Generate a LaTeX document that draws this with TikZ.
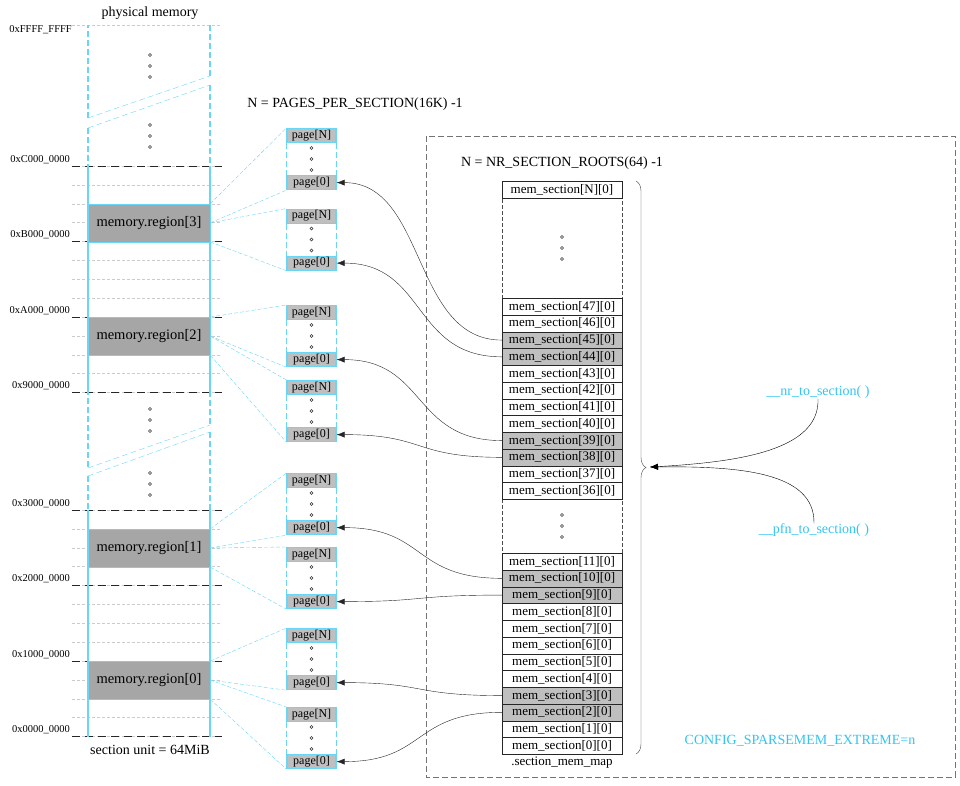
\documentclass[tikz,border=0pt]{standalone}
\usepackage{fontspec}
\setmainfont{Liberation Serif}
\usetikzlibrary{arrows.meta,positioning,calc,decorations.pathreplacing}
\definecolor{cyanA}{HTML}{6AD6F6}
\definecolor{cyanT}{HTML}{33C4F0}
\definecolor{grayA}{HTML}{A6A6A6}
\definecolor{grayB}{HTML}{BFBFBF}
\newcommand{\ringdots}[2]{\foreach \k in {0,1,2} \draw[black!80, thin] (#1,#2+11*\k) circle[radius=1.5pt];}

\begin{document}
\begin{tikzpicture}[x=1pt, y=-1pt, font=\fontsize{13}{15}\selectfont,
  lbl/.style={inner sep=0pt, font=\fontsize{14}{16}\selectfont},
  addr/.style={inner sep=0pt, anchor=south east, font=\fontsize{10.5}{12}\selectfont},
  region/.style={draw=cyanA, fill=grayA, anchor=north, minimum width=122pt, minimum height=37.75pt, inner sep=0pt, font=\fontsize{14.5}{16}\selectfont},
  pg/.style={draw=cyanA, line width=1.2pt, fill=grayB, minimum width=49pt, minimum height=14pt, inner sep=0pt, font=\fontsize{12}{13}\selectfont},
  ms/.style={draw=black!85, fill=white, anchor=north, minimum width=120pt, minimum height=16.75pt, inner sep=0pt, font=\fontsize{13}{14}\selectfont},
  hot/.style={ms, fill=grayB},
  side/.style={cyanA, line width=1.2pt, dash pattern=on 6pt off 3pt},
  addrline/.style={black!85, semithick, dash pattern=on 8pt off 5pt},
  secline/.style={black!20, thin, dash pattern=on 3pt off 2pt},
  link/.style={cyanA, thin, dash pattern=on 4pt off 2pt},
  ptr/.style={-{Latex[length=8pt, width=6pt]}, black!85, thin},
  fn/.style={text=cyanT, inner sep=0pt, font=\fontsize{14}{16}\selectfont}]
\useasboundingbox (0,0) rectangle (960,785);

% physical memory column
\node[lbl] (phys) at (150,13) {physical memory};
\draw[secline] (72,25) -- (222,25);
\node[addr, anchor=east] (aF) at (72,30) {0xFFFF\_FFFF};
\foreach \b in {166,510} {
  \foreach \k in {0,...,12}
    \draw[secline] (72,\b+18.875*\k) -- (222,\b+18.875*\k);
  \foreach \k in {0,4,8,12}
    \draw[addrline] (72,\b+18.875*\k) -- (222,\b+18.875*\k);
}
\foreach \y/\t in {166/C,241.5/B,317/A,392.5/9,510/3,585.5/2,661/1,736.5/0}
  \node[addr] (a\t) at (70,\y-2) {0x\t000\_0000};

\draw[side] (88,118) -- (88,25) (210,25) -- (210,76);
\draw[side, thin] (88,118) -- (210,76);
\draw[side, thin] (88,128) -- (210,85);
\draw[side] (88,128) -- (88,468) (210,85) -- (210,425);
\draw[side, thin] (88,468) -- (210,425);
\draw[side, thin] (88,476) -- (210,432);
\draw[side] (88,476) -- (88,736.5) (210,432) -- (210,736.5);
\draw[cyanA, line width=1.2pt] (88,166) -- (88,392.5) (210,166) -- (210,392.5);
\draw[cyanA, line width=1.2pt] (88,510) -- (88,736.5) (210,510) -- (210,736.5);
\ringdots{150}{55}
\ringdots{150}{125}
\ringdots{150}{409}
\ringdots{150}{473}

\node[region] (reg3) at (149,203.75) {memory.region[3]};
\node[region] (reg2) at (149,317) {memory.region[2]};
\node[region] (reg1) at (149,528.9) {memory.region[1]};
\node[region] (reg0) at (149,661) {memory.region[0]};
\node[lbl] (unit) at (150,750) {section unit = 64MiB};

% page stacks
\node[lbl] (npages) at (355,104) {N = PAGES\_PER\_SECTION(16K) -1};
\foreach \s/\y in {1/128,2/208.5,3/305,4/380,5/473,6/547,7/628,8/707} {
  \node[pg, anchor=north] (pgN\s) at (311.5,\y) {page[N]};
  \node[pg, anchor=north] (pgZ\s) at (311.5,\y+47) {page[0]};
  \draw[side, thin] (pgN\s.south west) -- (pgZ\s.north west) (pgN\s.south east) -- (pgZ\s.north east);
  \ringdots{311.5}{\y+20}
}
\foreach \r/\a/\b in {3/1/2,2/3/4,1/5/6,0/7/8} {
  \draw[link] (reg\r.north east) -- (pgN\a.north west);
  \draw[link] (reg\r.east) -- (pgZ\a.south west);
  \draw[link] (reg\r.east) -- (pgN\b.north west);
  \draw[link] (reg\r.south east) -- (pgZ\b.south west);
}

% mem_section table
\draw[black!55, dash pattern=on 6pt off 3pt] (426,136) rectangle (955,777);
\node[lbl] (nroots) at (562,163) {N = NR\_SECTION\_ROOTS(64) -1};
\draw[black!70, dash pattern=on 4pt off 2pt] (502,181) rectangle (622,754);
\node[ms, minimum height=17pt] (msN) at (562,181) {mem\_section[N][0]};
\foreach \i/\st [count=\c from 0] in {47/ms,46/ms,45/hot,44/hot,43/ms,42/ms,41/ms,40/ms,39/hot,38/hot,37/ms,36/ms}
  \node[\st] (ms\i) at (562,298+16.75*\c) {mem\_section[\i][0]};
\foreach \i/\st [count=\c from 0] in {11/ms,10/hot,9/hot,8/ms,7/ms,6/ms,5/ms,4/ms,3/hot,2/hot,1/ms,0/ms}
  \node[\st] (ms\i) at (562,553+16.75*\c) {mem\_section[\i][0]};
\ringdots{562}{237}
\ringdots{562}{515}
\node[inner sep=0pt] (map) at (562,763) {.section\_mem\_map};

\foreach \i/\s in {45/1,44/2,39/3,38/4,10/5,9/6,3/7,2/8}
  \draw[ptr] (ms\i.west) .. controls +(-90,0) and +(90,0) .. (pgZ\s.east);

% lookup helpers
\draw[black!75, decorate, decoration={brace, amplitude=10pt, aspect=0.5}] (636,181) -- (636,754);
\coordinate (brtip) at (650,467);
\node[fn] (nr) at (818,392) {\_\_nr\_to\_section( )};
\node[fn] (pfn) at (814,530) {\_\_pfn\_to\_section( )};
\draw[ptr, black] (nr.south) .. controls (820,450) and (740,462) .. (brtip);
\draw[ptr, black] (pfn.north) .. controls (815,472) and (740,466) .. (brtip);
\node[fn] (cfg) at (800,741) {CONFIG\_SPARSEMEM\_EXTREME=n};
\end{tikzpicture}
\end{document}
